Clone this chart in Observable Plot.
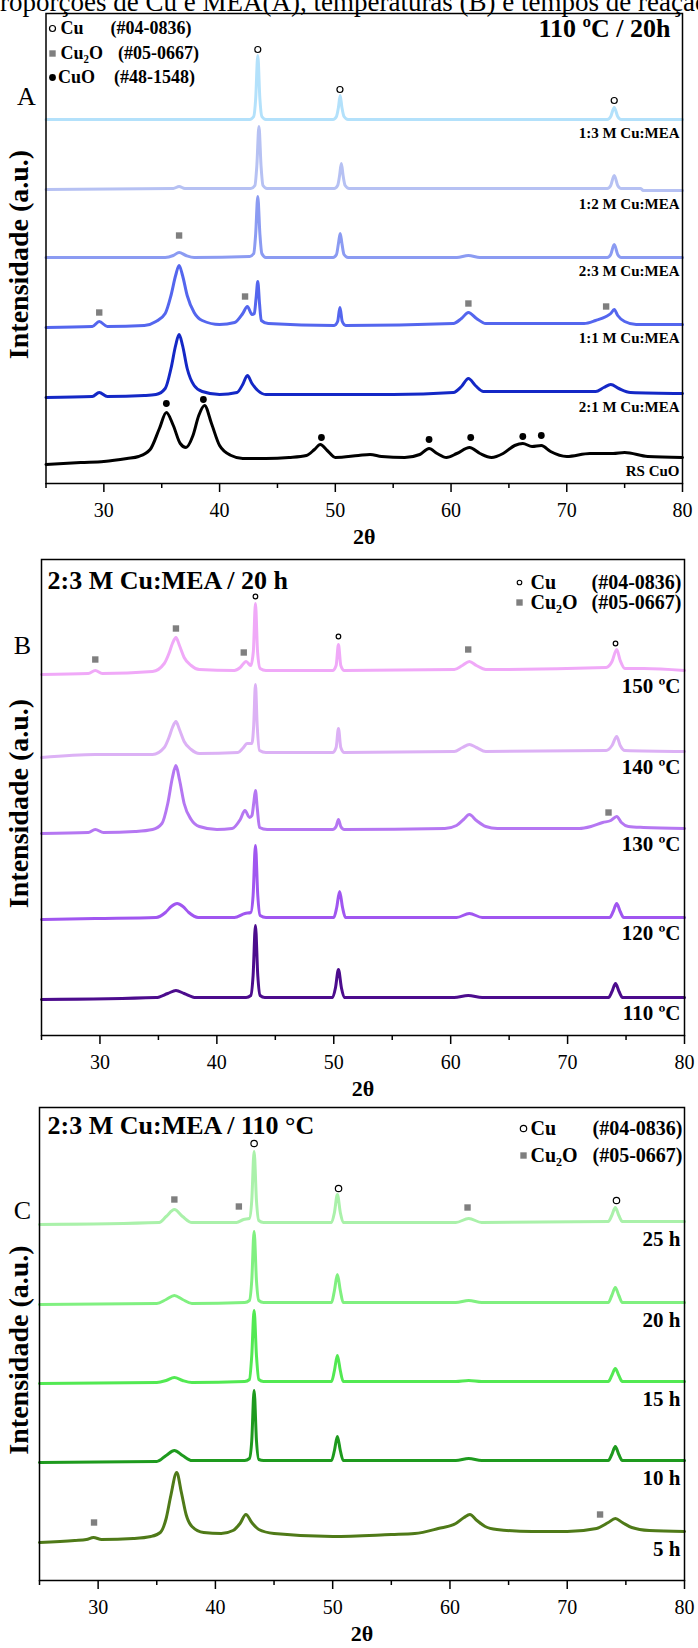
<!DOCTYPE html>
<html>
<head>
<meta charset="utf-8">
<script src="https://cdn.jsdelivr.net/npm/d3@7"></script>
<script src="https://cdn.jsdelivr.net/npm/@observablehq/plot@0.6"></script>
<style>
  html, body { margin: 0; padding: 0; background: #fff; }
  body { width: 698px; height: 1648px; overflow: hidden; position: relative;
         font-family: "Liberation Serif", "Times New Roman", serif; }
  .panel { position: absolute; left: 0; }
  #caption { position: absolute; left: -15px; top: -11px; font-size: 27px; line-height: 27px;
             white-space: nowrap; color: #000; z-index: 2; }
</style>
</head>
<body>
<div id="panelA" class="panel" style="top:0px"></div>
<div id="panelB" class="panel" style="top:553px"></div>
<div id="panelC" class="panel" style="top:1101px"></div>
<div id="caption">Proporções de Cu e MEA(A), temperaturas (B) e tempos de reação</div>
<script>
// ---------- shared axis ----------
const majorTicks = [30, 40, 50, 60, 70, 80];
const minorTicks = [25, 35, 45, 55, 65, 75];

// ---------- Panel A: Cu:MEA molar ratio (110 ºC / 20 h) ----------
const namesA = ["1:3 M Cu:MEA", "1:2 M Cu:MEA", "2:3 M Cu:MEA", "1:1 M Cu:MEA", "2:1 M Cu:MEA", "RS CuO"];
const a13 = [[25,364],[42.6,364],[42.95,367],[43.12,385],[43.3,428],[43.48,385],[43.65,367],[44.0,364],
  [49.8,364],[50.1,367],[50.27,376],[50.42,388],[50.57,376],[50.75,367],[51.1,364],
  [73.5,364],[73.8,367],[74.1,376],[74.4,367],[74.7,364],[80,364]];
const a12 = [[25,294],[36,295],[36.5,297],[37,295],[42.7,295],[43.05,298],[43.22,318],[43.4,357],[43.58,318],[43.75,298],[44.1,295],
  [49.9,295],[50.2,298],[50.37,308],[50.52,320],[50.67,308],[50.85,298],[51.2,295],
  [73.5,295],[73.8,298],[74.1,308],[74.4,298],[74.7,295],[76.4,295],[76.6,293],[80,293]];
const a23 = [[25,226],[35.3,226],[36,228],[36.5,231],[37.1,228],[37.8,226],[42.6,227],[42.95,230],[43.12,250],[43.3,287],[43.48,250],[43.65,230],[44.0,226],
  [49.8,226],[50.1,229],[50.27,240],[50.42,250],[50.57,240],[50.75,229],[51.1,226],[60.5,226],[61.5,228],[62.5,226],
  [73.5,226],[73.8,229],[74.1,239],[74.4,229],[74.7,226],[80,226]];
const a11 = [[25,156],[29,157],[29.6,162],[30.3,157],[33.5,158],[34.5,162],[35.3,170],[35.8,188],[36.2,208],[36.5,218],[36.8,208],[37.2,188],[37.8,171],[38.5,163],
  [40,159],[41.3,161],[42.0,170],[42.4,177],[42.8,169],[43.0,170],[43.15,185],[43.3,202],[43.45,180],[43.6,163],[44.2,160],
  [49.9,158],[50.2,162],[50.4,176],[50.6,162],[50.9,158],[60.2,160],[60.9,165],[61.5,171],[62.2,165],[63,160],
  [71.5,160],[72.5,163],[73.4,167],[73.8,170],[74.1,174],[74.4,168],[75,162],[76,159],[80,159]];
const a21 = [[25,86],[29,87],[29.6,91],[30.3,87],[33.5,88],[34.5,89],[35.3,95],[35.8,115],[36.2,138],[36.5,149],[36.8,138],[37.2,115],[37.8,98],[38.5,92],
  [40,89],[41.5,91],[42.0,99],[42.4,108],[42.8,100],[43.3,93],[44,89],[55,89],[60.2,91],[60.9,97],[61.5,105],[62.1,98],[62.8,92],
  [72.5,92],[73.2,96],[73.8,99],[74.5,95],[75.5,91],[80,90]];
const aCuO = [[25,19],[28,21],[30,22],[32,25],[33,27],[34,34],[34.8,55],[35.4,71],[36.0,58],[36.6,40],[37.1,36],[37.7,48],[38.2,68],[38.7,78],[39.3,60],
  [40,38],[41,28],[42,25],[44,25],[46,26],[47.5,28],[48.2,34],[48.7,39],[49.3,33],[50,26],[52,28],[53,29],[54,27],[56,26],[57.3,29],[58.1,35],[58.8,30],
  [59.6,26],[60.5,30],[61.6,36],[62.5,30],[63.5,26],[64.5,30],[65.5,38],[66.2,40],[67,37],[67.8,38],[68.6,32],[70,27],[72,30],[74,30],[75,31],[77,27],[80,26]];
const cuPeaksA = [[43.3,434],[50.4,394],[74.1,383]];
const cu2oPeaksA = [[36.5,248],[29.6,171],[42.2,187],[61.5,180],[73.4,177]];
const cuoPeaksA = [[35.4,80],[38.6,84],[48.8,46],[58.1,44],[61.7,46],[66.2,47],[67.8,48]];

// ---------- Panel B: temperature series (2:3 M Cu:MEA / 20 h) ----------
const namesB = ["150 ºC", "140 ºC", "130 ºC", "120 ºC", "110 ºC"];
const b150 = [[25,361],[29,362],[29.6,365],[30.2,362],[34.5,364],[35.5,372],[35.9,382],[36.2,392],[36.5,398],[36.8,390],[37.2,378],[37.8,370],[38.5,366],
  [41.5,365],[42.0,368],[42.5,374],[42.9,370],[43.12,384],[43.3,432],[43.48,384],[43.7,367],[44.2,365],
  [49.9,365],[50.2,370],[50.4,391],[50.6,370],[50.9,365],[60.3,366],[61.0,370],[61.6,374],[62.2,370],[63,366],
  [73.3,368],[73.8,374],[74.2,386],[74.5,375],[74.9,367],[76.5,367],[80,365]];
const b140 = [[25,278],[29.6,281],[34.5,281],[35.5,288],[35.9,298],[36.2,308],[36.5,314],[36.8,306],[37.2,294],[37.8,286],[38.5,282],
  [41.8,283],[42.2,287],[42.6,292],[43.0,292],[43.15,310],[43.3,351],[43.45,310],[43.65,285],[44.2,283],
  [49.9,283],[50.2,288],[50.4,307],[50.6,288],[50.9,283],[60.3,284],[61.0,288],[61.6,291],[62.2,288],[63,284],
  [73.3,285],[73.8,290],[74.2,299],[74.5,290],[74.9,285],[80,284]];
const b130 = [[25,202],[29,203],[29.6,206],[30.3,203],[33,204],[34.5,206],[35.3,212],[35.8,232],[36.2,258],[36.5,270],[36.8,256],[37.2,232],[37.8,216],[38.5,209],
  [40,206],[41.3,207],[42.0,216],[42.4,225],[42.8,218],[43.0,220],[43.15,232],[43.3,245],[43.45,228],[43.65,208],[44.3,206],
  [49.9,206],[50.2,209],[50.4,216],[50.6,209],[50.9,206],[59.5,207],[60.5,210],[61.1,216],[61.6,221],[62.2,215],[63,209],[64,207],
  [71,207],[72,209],[73,213],[73.7,215],[74.2,219],[74.6,213],[75.2,209],[76.5,208],[80,207]];
const b120 = [[25,116],[29.6,117],[34.8,118],[35.6,123],[36.1,129],[36.6,132],[37.1,129],[37.6,123],[38.4,118],
  [41.5,118],[42.4,122],[42.9,123],[43.1,140],[43.3,190],[43.5,140],[43.7,120],[44.2,118],
  [50.0,118],[50.25,128],[50.5,144],[50.75,128],[51.0,118],[60.5,118],[61.6,122],[62.7,118],
  [73.6,118],[73.9,124],[74.2,132],[74.5,124],[74.8,118],[80,118]];
const b110 = [[25,36],[34.8,38],[35.8,42],[36.5,45],[37.2,42],[38.2,38],[42.5,38],[42.9,40],[43.1,60],[43.3,110],[43.5,60],[43.7,40],[44.1,38],
  [49.9,38],[50.15,48],[50.4,66],[50.65,48],[50.9,38],[60.3,38],[61.5,40],[62.7,38],
  [73.5,38],[73.8,44],[74.1,52],[74.4,44],[74.7,38],[80,38]];
const cuPeaksB = [[43.3,439],[50.4,399],[74.1,392]];
const cu2oPeaksB = [[29.6,376],[36.5,407],[42.3,383],[61.5,386],[73.5,223]];

// ---------- Panel C: reaction time series (2:3 M Cu:MEA / 110 °C) ----------
const namesC = ["25 h", "20 h", "15 h", "10 h", "5 h"];
const c25 = [[25,356],[35.2,358],[35.8,364],[36.5,371],[37.2,364],[38,358],[41.8,358],[42.4,361],[42.9,362],[43.1,380],[43.3,429],[43.5,380],[43.7,360],[44.1,358],
  [49.9,358],[50.15,368],[50.4,386],[50.65,368],[50.9,358],[60.5,358],[61.6,362],[62.7,358],
  [73.5,359],[73.8,365],[74.1,373],[74.4,365],[74.7,359],[80,359]];
const c20 = [[25,276],[35,277],[35.8,281],[36.5,285],[37.2,281],[38,277],[42.5,278],[42.9,280],[43.1,300],[43.3,349],[43.5,300],[43.7,280],[44.1,278],
  [49.9,278],[50.15,290],[50.4,306],[50.65,290],[50.9,278],[60.5,278],[61.6,280],[62.7,278],
  [73.5,278],[73.8,285],[74.1,293],[74.4,285],[74.7,278],[80,278]];
const c15 = [[25,197],[35,198],[35.8,200],[36.5,203],[37.2,200],[38,198],[42.5,199],[42.9,201],[43.1,225],[43.3,270],[43.5,225],[43.7,201],[44.1,199],
  [49.9,199],[50.15,210],[50.4,225],[50.65,210],[50.9,199],[60.5,199],[61.6,200],[62.7,199],
  [73.5,199],[73.8,205],[74.1,212],[74.4,205],[74.7,199],[80,199]];
const c10 = [[25,118],[35,119],[35.8,125],[36.5,130],[37.2,125],[38,120],[42.5,120],[42.9,122],[43.1,140],[43.3,190],[43.5,140],[43.7,121],[44.1,120],
  [49.9,120],[50.15,130],[50.4,144],[50.65,130],[50.9,120],[60.5,120],[61.6,122],[62.7,120],
  [73.5,120],[73.8,126],[74.1,134],[74.4,126],[74.7,120],[80,120]];
const c5 = [[25,38],[28,40],[29,41],[29.6,43],[30.3,41],[33,42],[34.5,44],[35.3,48],[35.8,62],[36.2,85],[36.7,108],[37.1,88],[37.5,66],[38.0,54],[39,48],
  [40.5,47],[41.5,50],[42.1,57],[42.6,66],[43.1,58],[43.7,51],[45,47],[50,44],[55,46],[57,47],[59,52],[60.5,57],[61.2,63],[61.7,66],[62.3,60],[63,54],
  [64,51],[67,49],[70,49],[72.5,52],[73.5,58],[74.1,62],[74.7,58],[75.5,53],[77,50],[80,49]];
const cuPeaksC = [[43.3,437],[50.5,392],[74.2,380]];
const cu2oPeaksC = [[36.5,381],[42.0,374],[61.5,373],[29.65,58],[72.8,66]];

// ---------- colours ----------
const coloursA = ["#b3e1fb", "#b6c1f3", "#8b9bf2", "#5466ee", "#1428c6", "#000000"];
const coloursB = ["#f0a9f8", "#dcb1f5", "#b577f2", "#a056f0", "#4c0c8d"];
const coloursC = ["#aaf1aa", "#80f080", "#52e952", "#1e9a1e", "#4f7a18"];

const serif = '"Liberation Serif", "Times New Roman", serif';
const xy = {x: d => d[0], y: d => d[1]};

function label(str, frameAnchor, dx, dy, size, opts = {}) {
  return Plot.text([str], {frameAnchor, dx, dy, fontSize: size, fontWeight: "bold",
    textAnchor: "start", lineAnchor: "middle", fill: "black", ...opts});
}

function xrdPanel(o) {
  const last = o.curves.map((c, i) => ({name: o.names[i], x: c[c.length - 1][0], y: c[c.length - 1][1]}));
  return Plot.plot({
    width: 698,
    height: o.mT + o.h + o.mB,
    marginLeft: o.mL, marginRight: o.mR, marginTop: o.mT, marginBottom: o.mB,
    style: {fontFamily: serif, background: "transparent", color: "black", overflow: "visible"},
    x: {domain: [25, 80]},
    y: {domain: [0, o.h], axis: null},
    marks: [
      ...o.curves.map((c, i) => Plot.line(c, {...xy, stroke: o.colours[i], strokeWidth: 3, curve: "monotone-x"})),
      Plot.dot(o.cu || [], {...xy, r: o.cuR, stroke: "black", strokeWidth: 1.2, fill: "white"}),
      Plot.dot(o.cu2o || [], {...xy, symbol: "square", r: 3.6, fill: "#7f7f7f", stroke: "none"}),
      Plot.dot(o.cuo || [], {...xy, r: 3.4, fill: "black", stroke: "none"}),
      Plot.text(last, {x: "x", y: "y", text: "name", textAnchor: "end", lineAnchor: "middle",
        dx: o.labelDx, dy: o.labelDy, fontSize: o.labelSize, fontWeight: "bold", fill: "black"}),
      Plot.frame({stroke: "black", strokeWidth: 1.5}),
      Plot.axisX({ticks: majorTicks, tickSize: 9, tickPadding: 10, fontSize: 20, strokeWidth: 1.5, label: null}),
      Plot.axisX({ticks: minorTicks, tickSize: 5, tickFormat: () => "", strokeWidth: 1.5, label: null}),
      Plot.text(["2θ"], {frameAnchor: "bottom", dy: 53, fontSize: 22, fontWeight: "bold",
        textAnchor: "middle", lineAnchor: "middle", fill: "black"}),
      Plot.text(["Intensidade (a.u.)"], {frameAnchor: "left", dx: 19 - o.mL, dy: 6, rotate: -90,
        fontSize: 28, fontWeight: "bold", textAnchor: "middle", lineAnchor: "middle", fill: "black"}),
      Plot.text([o.letter], {frameAnchor: "top-left", dx: o.letterDx, dy: o.letterDy, fontSize: 26,
        textAnchor: "middle", lineAnchor: "middle", fill: "black"}),
      ...o.extra
    ]
  });
}

// Panel A
document.getElementById("panelA").append(xrdPanel({
  curves: [a13, a12, a23, a11, a21, aCuO], names: namesA, colours: coloursA,
  cu: cuPeaksA, cu2o: cu2oPeaksA, cuo: cuoPeaksA, cuR: 3,
  mL: 45.5, mR: 16, mT: 13, mB: 70, h: 470,
  labelDx: -3, labelDy: 14, labelSize: 15,
  letter: "A", letterDx: -19.5, letterDy: 83,
  extra: [
    Plot.dot([0], {frameAnchor: "top-left", dx: 6.5, dy: 15, r: 3, stroke: "black", strokeWidth: 1.2, fill: "white"}),
    label("Cu", "top-left", 14.5, 15, 18),
    label("(#04-0836)", "top-left", 64.5, 15, 18),
    Plot.dot([0], {frameAnchor: "top-left", dx: 6.5, dy: 40, symbol: "square", r: 3.6, fill: "#7f7f7f"}),
    label("Cu₂O", "top-left", 14.5, 40, 18),
    label("(#05-0667)", "top-left", 72, 40, 18),
    Plot.dot([0], {frameAnchor: "top-left", dx: 6.5, dy: 64, r: 3.4, fill: "black"}),
    label("CuO", "top-left", 12, 64, 18),
    label("(#48-1548)", "top-left", 68, 64, 18),
    label("110 ºC / 20h", "top-right", -12, 15, 26, {textAnchor: "end"})
  ]
}));

// Panel B
document.getElementById("panelB").append(xrdPanel({
  curves: [b150, b140, b130, b120, b110], names: namesB, colours: coloursB,
  cu: cuPeaksB, cu2o: cu2oPeaksB, cuR: 2.3,
  mL: 41, mR: 14, mT: 6, mB: 66, h: 476,
  labelDx: -4, labelDy: 16, labelSize: 21,
  letter: "B", letterDx: -19, letterDy: 86,
  extra: [
    label("2:3 M Cu:MEA / 20 h", "top-left", 6, 21, 26),
    Plot.dot([0], {frameAnchor: "top-right", dx: -165, dy: 23, r: 2.3, stroke: "black", strokeWidth: 1.1, fill: "white"}),
    label("Cu", "top-right", -154, 23, 20),
    label("(#04-0836)", "top-right", -3, 23, 20, {textAnchor: "end"}),
    Plot.dot([0], {frameAnchor: "top-right", dx: -165, dy: 43, symbol: "square", r: 3.6, fill: "#7f7f7f"}),
    label("Cu₂O", "top-right", -154, 43, 20),
    label("(#05-0667)", "top-right", -3, 43, 20, {textAnchor: "end"})
  ]
}));

// Panel C
document.getElementById("panelC").append(xrdPanel({
  curves: [c25, c20, c15, c10, c5], names: namesC, colours: coloursC,
  cu: cuPeaksC, cu2o: cu2oPeaksC, cuR: 3.2,
  mL: 39, mR: 14, mT: 6, mB: 68, h: 473,
  labelDx: -4, labelDy: 18, labelSize: 21,
  letter: "C", letterDx: -17, letterDy: 103,
  extra: [
    label("2:3 M Cu:MEA / 110 °C", "top-left", 8, 18, 26),
    Plot.dot([0], {frameAnchor: "top-right", dx: -161, dy: 21, r: 3.2, stroke: "black", strokeWidth: 1.2, fill: "white"}),
    label("Cu", "top-right", -154, 21, 20),
    label("(#04-0836)", "top-right", -2, 21, 20, {textAnchor: "end"}),
    Plot.dot([0], {frameAnchor: "top-right", dx: -161, dy: 48, symbol: "square", r: 3.6, fill: "#7f7f7f"}),
    label("Cu₂O", "top-right", -154, 48, 20),
    label("(#05-0667)", "top-right", -2, 48, 20, {textAnchor: "end"})
  ]
}));
</script>
</body>
</html>
